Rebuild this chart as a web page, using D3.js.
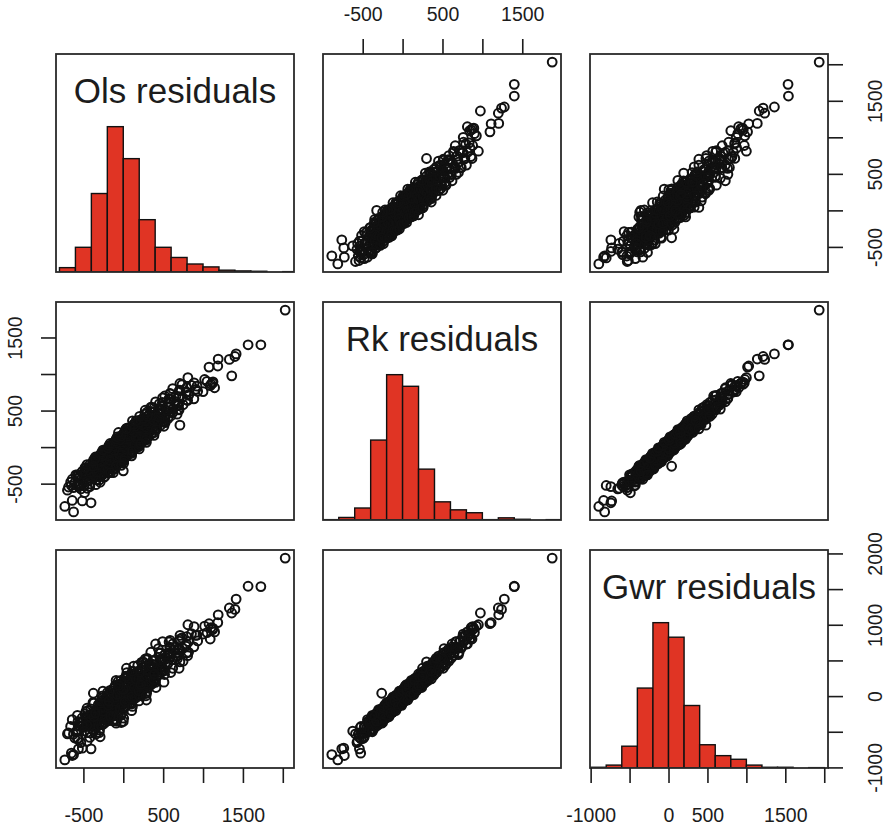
<!DOCTYPE html>
<html>
<head>
<meta charset="utf-8">
<script src="https://cdnjs.cloudflare.com/ajax/libs/d3/7.8.5/d3.min.js"></script>
<style>
  body { margin: 0; background: #fff; }
</style>
</head>
<body>
<div id="chart"></div>
<script>
// Residuals of the three models, one value per observation (same order in each array)
const ols = [
  -700, -532, -625, -420, -541, -415, -608, -460, -302, -527, -360, -445,
  -298, -541, -343, -447, -250, -382, -265, -469, -331, -183, -417, -260, -353, -206, -448, -252,
  -355, -159, -292, -175, -378, -241, -95, -328, -172, -266, -119, -363, -167, -273, -275, -386,
  -228, -404, -237, -61,
  -288, -133, -227, -82, -326, -131, -236, -40, -175, -59, -264, -129, 17, -218, -62, -157,
  -12, -256, -61, -166, 30, -105, 10, -194, -59, 86, -148, 7, -88, 58, -187, 8, -96, 99,
  -36, 80, -125, -180, -13, -227, -49, -123, 39, -189, 26, -244, -5, -97, 61, -123,
  13, 158, -76, 79, -15, 130, -114, 81, -23, 172, 38, 153, -51, 84, 230, -5, 151, 56,
  202, -43, 153, 48, 244, 109, 225, 20, 156, 301, 67, 222, 128, 273, 29, 224, 120, 316,
  -9, 134, -43, 120, 293, 86, 82, 48, 254, 49,
  244, 141, 338, 205, 322, 119, 256, 403, 170, 327, 234, 381, 138, 335, 232, 429, 296, 413,
  210, 347, 494, 261, 418, 325, 472, 229, 426, 324,
  525, 398, 521, 324, 467, 620, 393, 556, 469, 622, 385, 588, 491, 694, 567, 688,
  490, 638, 796, 574, 742, 660, 818, 586, 794, 702,
  910, 792, 924, 736, 888, 1050,
  -453, -686, -490, -344, -567, -660, -452, -335, -568, -371,
  -232, -465, -567, -370, -263, -506, -319, -182, -415, -517, -320, -213, -456, -269, -132, -365,
  -468, -271, -165, -408, -221, -84, -318, -421, -225, -119, -362, -176, -40, -275, -568, -334,
  -191, -402, -189, -31,
  -266, -369, -174, -68, -313, -128, 8, -227, -332, -136, -31, -275, -90, 45, -189, -294,
  -99, 7, -238, -53, 83, -152, -257, -61, 44, -201, -15, 120, -115, -219, -24, 81, -163, 22,
  158, -77, -182, -170, -41, -260, -52, 104, -114, -199,
  15, 120, -124, 61, 197, -37, -142, 54, 159, -85, 100, 236, 1, -103, 92, 198, -47, 139,
  274, 40, -65, 131, 236, -8, 177, 313, 78, -26, 169, 275, 30, 216, 351, 117, 13, 208,
  143, -41, 161, 357,
  137, 34, 231, 338, 96, 283, 420, 187, 84, 281, 388, 145, 332, 469, 236, 133, 330, 437,
  194, 381, 518, 285, 182, 379, 486, 250,
  451, 595, 368, 271, 474, 587, 350, 543, 686, 459, 362, 565, 678, 452,
  659, 807, 585, 493, 701, 819, 587, 785, 933, 711, 620, 855,
  -290, -640, -240, -595, -125, -510, -110, -480, -90, -455, 5, -380, 5, -370, 20, -350,
  105, -280, 105, -270, 115, -255, 200, -190, 195, -180, 205, -165, 290, -100, 285, -90,
  295, -75, 385, 0, 390, 20, 410, 45, 510, 130, 525, 160, 560, 205, 675, 300, 700, 345,
  750, 405, 885, 520, -160, -350, 220, 35, -25, -30,
  2030, 1725, 1565, 1415, 1400, 1330, 1190, 1075, 1185, 1360, 810, 1000, 1100, 710, 710,
  115, 0, -60, 275, -375, 440, 300, 40, -623, -733, -404, -514, -486, -651, -640,
  -562, -575, -575, 1145, 1120, 1020, 1090, 1125
];
const rk = [
  -590, -572, -555, -540, -521, -505, -488, -470, -452, -437, -420, -405,
  -398, -391, -383, -377, -370, -362, -355, -349, -341, -333, -327, -320, -313, -306, -298, -292,
  -285, -279, -272, -265, -258, -251, -245, -238, -232, -226, -219, -213, -207, -203, -395, -366,
  -318, -284, -247, -211,
  -198, -193, -187, -182, -176, -171, -166, -160, -155, -149, -144, -139, -133, -128, -122, -117,
  -112, -106, -101, -96, -90, -85, -80, -74, -69, -64, -58, -53, -48, -42, -37, -32, -26, -21,
  -16, -10, -5, -190, -163, -137, -109, -83, -61, -39, -14, -174, -125, -77, -29, -3,
  3, 8, 14, 19, 25, 30, 36, 41, 47, 52, 58, 63, 69, 74, 80, 85, 91, 96,
  102, 107, 113, 118, 124, 129, 135, 140, 146, 151, 157, 162, 168, 173, 179, 184, 190, 196,
  11, 44, 77, 110, 143, 176, 22, 88, 154, 199,
  204, 211, 218, 225, 232, 239, 246, 253, 260, 267, 274, 281, 288, 295, 302, 309, 316, 323,
  330, 337, 344, 351, 358, 365, 372, 379, 386, 394,
  405, 418, 431, 444, 457, 470, 483, 496, 509, 522, 535, 548, 561, 574, 587, 598,
  610, 628, 646, 664, 682, 700, 718, 736, 754, 772,
  790, 812, 834, 856, 878, 900,
  -563, -546, -530, -514, -497, -480, -462, -445, -428, -411,
  -402, -395, -387, -380, -373, -366, -359, -352, -345, -337, -330, -323, -316, -309, -302, -295,
  -288, -281, -275, -268, -261, -254, -248, -241, -235, -229, -222, -216, -210, -205, -388, -344,
  -301, -262, -229, -201,
  -196, -189, -184, -178, -173, -168, -162, -157, -152, -146, -141, -135, -130, -125, -119, -114,
  -109, -103, -98, -93, -87, -82, -77, -71, -66, -61, -55, -50, -45, -39, -34, -29, -23, -18,
  -12, -7, -2, -180, -151, -120, -92, -66, -44, -19,
  5, 10, 16, 21, 27, 33, 38, 44, 49, 55, 60, 66, 71, 77, 82, 88, 93, 99,
  104, 110, 115, 121, 126, 132, 137, 143, 148, 154, 159, 165, 170, 176, 181, 187, 193, 198,
  33, 99, 121, 187,
  207, 214, 221, 228, 236, 243, 250, 257, 264, 271, 278, 285, 292, 299, 306, 313, 320, 327,
  334, 341, 348, 355, 362, 369, 376, 390,
  411, 425, 438, 451, 464, 477, 490, 503, 516, 529, 542, 555, 568, 592,
  619, 637, 655, 673, 691, 709, 727, 745, 763, 781, 800, 845,
  -480, -440, -410, -380, -350, -330, -300, -280, -260, -240, -220, -200, -185, -170, -150, -135,
  -120, -100, -85, -70, -55, -40, -25, -10, 5, 20, 35, 50, 65, 80, 95, 110,
  125, 140, 160, 180, 200, 220, 240, 260, 285, 310, 335, 360, 390, 420, 450, 480, 510, 545,
  580, 620, 660, 700, -350, -150, 50, 250, -250, 150,
  1875, 1400, 1400, 1275, 1240, 1200, 1205, 1095, 1110, 975, 950, 760, 860, 870, 300,
  360, -325, 200, 505, -262, 520, 420, 250, -887, -812, -762, -737, -625, -525, -730,
  -541, -520, -380, 812, 875, 925, 840, 893
];
const gwr = [
  -530, -652, -535, -580, -426, -515, -588, -425, -512, -357, -420, -345,
  -478, -371, -423, -282, -380, -462, -310, -409, -261, -333, -267, -400, -293, -346, -203, -302,
  -385, -234, -332, -185, -258, -191, -325, -218, -272, -131, -229, -313, -162, -263, -315, -366,
  -258, -364, -227, -251,
  -103, -203, -287, -137, -236, -91, -166, -100, -235, -129, -184, -44, -143, -228, -77, -177,
  -32, -106, -41, -176, -70, -125, 15, -84, -169, -19, -118, 27, -48, 18, -117, -12, -66, 74,
  -26, -110, 40, -250, -83, -137, -49, -163, -41, -79, 81, -184, -225, -32, -89, 77,
  3, 68, -66, 39, -15, 125, 26, -59, 92, -8, 138, 63, 129, -6, 100, 45, 186, 86,
  2, 152, 53, 198, 124, 189, 55, 160, 106, 246, 147, 62, 213, 113, 259, 184, 250, 116,
  31, 4, 172, 100, 43, 221, -38, 168, 154, 259,
  124, 231, 178, 320, 222, 139, 291, 193, 340, 267, 334, 201, 308, 255, 397, 299, 216, 368,
  270, 417, 344, 411, 278, 385, 332, 474, 376, 294,
  450, 358, 511, 444, 517, 390, 503, 456, 604, 512, 435, 593, 501, 654, 587, 658,
  530, 648, 606, 759, 672, 600, 763, 676, 834, 772,
  850, 732, 854, 816, 973, 890,
  -633, -516, -440, -534, -592, -425, -507, -435, -358, -481,
  -372, -305, -407, -475, -318, -411, -349, -282, -415, -307, -240, -343, -411, -254, -347, -285,
  -218, -351, -245, -178, -281, -349, -193, -286, -225, -159, -292, -186, -120, -225, -483, -289,
  -346, -252, -159, -271,
  -166, -99, -204, -273, -118, -213, -152, -87, -222, -116, -51, -155, -225, -70, -164, -104,
  -39, -173, -68, -3, -107, -177, -22, -116, -56, 9, -125, -20, 45, -59, -129, 26, -68, -8,
  58, -77, 28, -90, -171, -215, -37, -111, -34, 51,
  -65, 40, 106, 1, -68, 88, -7, 54, 119, -15, 90, 156, 51, -18, 137, 43, 103, 169,
  34, 140, 205, 101, 31, 187, 92, 153, 218, 84, 189, 255, 150, 81, 236, 142, 203, 268,
  -37, 129, 211, 167,
  112, 269, 176, 238, 306, 173, 280, 347, 244, 176, 333, 240, 302, 369, 236, 343, 410, 307,
  239, 396, 303, 365, 432, 299, 406, 480,
  391, 330, 493, 406, 474, 547, 420, 533, 606, 509, 447, 610, 523, 602,
  689, 567, 685, 763, 671, 614, 782, 700, 773, 851, 730, 875,
  -570, -330, -380, -500, -280, -420, -190, -250, -380, -170, -310, -90, -155, -290, -80, -225,
  -10, -70, -205, 0, -145, 70, 5, -130, 75, -70, 145, 80, -55, 150, 5, 220,
  155, 20, 230, 90, 310, 250, 120, 330, 195, 420, 365, 240, 460, 330, 560, 510, 390, 615,
  490, 730, 690, 580, -280, -240, 160, 280, -370, 220,
  1935, 1535, 1540, 1360, 1215, 1235, 1140, 1015, 1030, 1165, 1000, 870, 960, 800, 480,
  350, -355, 150, 520, 40, 665, 530, 390, -820, -895, -740, -730, -490, -800, -833,
  -740, -600, -270, 900, 930, 980, 800, 950
];

// Histogram bins
const olsBreaks = [-800, -600, -400, -200, 0, 200, 400, 600, 800, 1000, 1200, 1400, 1600, 1800, 2000, 2200];
const olsCounts = [12, 68, 216, 400, 312, 144, 68, 40, 22, 14, 5, 3, 2, 0, 1];
const rkBreaks = [-1000, -800, -600, -400, -200, 0, 200, 400, 600, 800, 1000, 1200, 1400, 1600, 1800, 2000];
const rkCounts = [1, 7, 33, 220, 400, 368, 140, 50, 28, 20, 1, 6, 2, 0, 1];
const gwrBreaks = [-1000, -800, -600, -400, -200, 0, 200, 400, 600, 800, 1000, 1200, 1400, 1600, 1800, 2000];
const gwrCounts = [2, 8, 60, 220, 400, 360, 172, 64, 34, 24, 8, 2, 2, 0, 1];

// Axis ticks and the labels R kept
const olsTicks = [-500, 0, 500, 1000, 1500, 2000];
const olsLabels = [-500, 500, 1500];
const rkTicks = [-500, 0, 500, 1000, 1500];
const rkLabels = [-500, 500, 1500];
const gwrTicks = [-1000, -500, 0, 500, 1000, 1500, 2000];
const gwrXLabels = [-1000, 0, 500, 1500];
const gwrYLabels = [-1000, 0, 1000, 2000];

const names = ["Ols residuals", "Rk residuals", "Gwr residuals"];

// Layout of the 3x3 grid
const width = 887, height = 830;
const panelW = 238, panelH = 218;
const colX = [56, 323, 590];
const rowY = [54, 302, 550];
const font = "'Liberation Sans', Arial, Helvetica, sans-serif";
const ink = "#1c1c1c";

const vars = [
  { name: names[0], values: ols, breaks: olsBreaks, counts: olsCounts },
  { name: names[1], values: rk, breaks: rkBreaks, counts: rkCounts },
  { name: names[2], values: gwr, breaks: gwrBreaks, counts: gwrCounts }
];

// R style 4% padding around each variable's range
vars.forEach((v) => {
  const ext = d3.extent(v.values);
  const pad = (ext[1] - ext[0]) * 0.04;
  v.x = d3.scaleLinear().domain([ext[0] - pad, ext[1] + pad]).range([0, panelW]);
  v.y = d3.scaleLinear().domain([ext[0] - pad, ext[1] + pad]).range([panelH, 0]);
});

const n = Math.min(ols.length, rk.length, gwr.length);
const idx = d3.range(n);

const svg = d3
  .select("#chart")
  .append("svg")
  .attr("width", width)
  .attr("height", height);

svg
  .append("defs")
  .append("clipPath")
  .attr("id", "panel-clip")
  .append("rect")
  .attr("width", panelW)
  .attr("height", panelH);

const panels = [];
for (let i = 0; i < 3; i++) {
  panels.push([]);
  for (let j = 0; j < 3; j++) {
    const g = svg
      .append("g")
      .attr("transform", `translate(${colX[j]}, ${rowY[i]})`);
    panels[i].push(g);
    const inner = g.append("g").attr("clip-path", "url(#panel-clip)");

    if (i === j) {
      // Histogram on the diagonal, scaled so the tallest bar is 2/3 of the panel
      const v = vars[i];
      const maxCount = d3.max(v.counts);
      const hy = d3.scaleLinear().domain([0, 1.5]).range([panelH, 0]);
      inner
        .selectAll("rect")
        .data(v.counts)
        .enter()
        .append("rect")
        .attr("x", (d, k) => v.x(v.breaks[k]))
        .attr("width", (d, k) => v.x(v.breaks[k + 1]) - v.x(v.breaks[k]))
        .attr("y", (d) => hy(d / maxCount))
        .attr("height", (d) => panelH - hy(d / maxCount))
        .attr("fill", "#e03424")
        .attr("stroke", "#111")
        .attr("stroke-width", 1.4);

      g.append("text")
        .attr("x", panelW / 2)
        .attr("y", 49)
        .attr("text-anchor", "middle")
        .style("font-family", font)
        .style("font-size", "35px")
        .style("fill", ink)
        .text(v.name);
    } else {
      // Scatter of column variable against row variable
      const vx = vars[j];
      const vy = vars[i];
      inner
        .selectAll("circle")
        .data(idx)
        .enter()
        .append("circle")
        .attr("cx", (k) => vx.x(vx.values[k]))
        .attr("cy", (k) => vy.y(vy.values[k]))
        .attr("r", 4.4)
        .attr("fill", "none")
        .attr("stroke", "#111")
        .attr("stroke-width", 2);
    }

    g.append("rect")
      .attr("width", panelW)
      .attr("height", panelH)
      .attr("fill", "none")
      .attr("stroke", "#2a2a2a")
      .attr("stroke-width", 1.8);
  }
}

// Draw an axis on one panel edge and style it like base R
function addAxis(panel, side, scale, ticks, labels) {
  const gen = {
    top: d3.axisTop,
    bottom: d3.axisBottom,
    left: d3.axisLeft,
    right: d3.axisRight
  }[side](scale)
    .tickValues(ticks)
    .tickSize(15)
    .tickSizeOuter(0)
    .tickPadding(side === "top" ? 18 : 25)
    .tickFormat((d) => (labels.includes(d) ? d : ""));

  const ax = panel.append("g");
  if (side === "bottom") ax.attr("transform", `translate(0, ${panelH})`);
  if (side === "right") ax.attr("transform", `translate(${panelW}, 0)`);
  ax.call(gen);
  ax.select(".domain").remove();
  ax.selectAll(".tick line").attr("stroke", ink).attr("stroke-width", 1.6);
  const txt = ax
    .selectAll(".tick text")
    .style("font-family", font)
    .style("font-size", "19.5px")
    .style("fill", ink);

  if (side === "left" || side === "right") {
    txt
      .attr("transform", "rotate(-90)")
      .attr("x", 0)
      .attr("y", side === "left" ? -34 : 54)
      .attr("dy", 0)
      .attr("text-anchor", "middle");
  }
}

addAxis(panels[0][1], "top", vars[1].x, rkTicks, rkLabels);
addAxis(panels[0][2], "right", vars[0].y, olsTicks, olsLabels);
addAxis(panels[1][0], "left", vars[1].y, rkTicks, rkLabels);
addAxis(panels[2][0], "bottom", vars[0].x, olsTicks, olsLabels);
addAxis(panels[2][2], "bottom", vars[2].x, gwrTicks, gwrXLabels);
addAxis(panels[2][2], "right", vars[2].y, gwrTicks, gwrYLabels);
</script>
</body>
</html>
